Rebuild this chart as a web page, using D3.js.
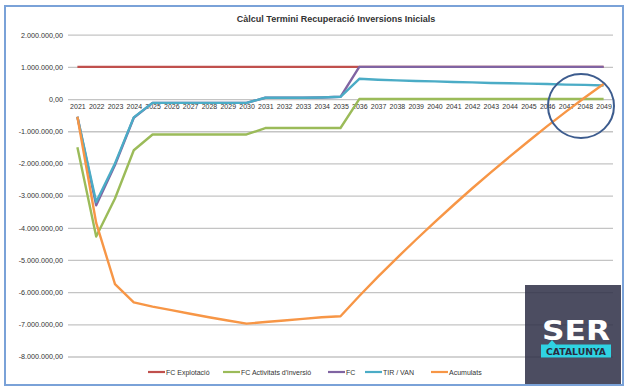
<!DOCTYPE html>
<html>
<head>
<meta charset="utf-8">
<script src="https://cdn.jsdelivr.net/npm/d3@7"></script>
<style>
  html, body { margin: 0; padding: 0; background: #fff; }
  svg { display: block; font-family: "Liberation Sans", Arial, sans-serif; }
</style>
</head>
<body>
<svg id="chart" width="630" height="392"></svg>
<script>
// ---------- DATA ----------
const years = ["2021","2022","2023","2024","2025","2026","2027","2028","2029","2030",
               "2031","2032","2033","2034","2035","2036","2037","2038","2039","2040",
               "2041","2042","2043","2044","2045","2046","2047","2048","2049"];

const fcExplotacio = [1000000,1000000,1000000,1000000,1000000,1000000,1000000,1000000,1000000,1000000,
                      1000000,1000000,1000000,1000000,1000000,1000000,1000000,1000000,1000000,1000000,
                      1000000,1000000,1000000,1000000,1000000,1000000,1000000,1000000,1000000];

const fcInversio = [-1500000,-4270000,-3090000,-1590000,-1100000,-1100000,-1100000,-1100000,-1100000,-1100000,
                    -900000,-900000,-900000,-900000,-900000,0,0,0,0,0,
                    0,0,0,0,0,0,0,0,0];

const fc = [-550000,-3300000,-2050000,-580000,-120000,-120000,-120000,-120000,-120000,-120000,
            40000,40000,40000,50000,70000,1000000,1000000,1000000,1000000,1000000,
            1000000,1000000,1000000,1000000,1000000,1000000,1000000,1000000,1000000];

const tirVan = [-550000,-3200000,-2000000,-570000,-120000,-120000,-120000,-120000,-120000,-120000,
                40000,40000,40000,50000,70000,630000,600000,580000,560000,550000,
                530000,520000,500000,490000,480000,470000,450000,440000,420000];

const acumulats = [-550000,-3850000,-5750000,-6320000,-6450000,-6560000,-6670000,-6780000,-6880000,-6980000,
                   -6930000,-6880000,-6830000,-6780000,-6750000,-6120000,-5520000,-4940000,-4380000,-3830000,
                   -3300000,-2780000,-2280000,-1790000,-1310000,-840000,-390000,50000,470000];

const yTicks = [2000000,1000000,0,-1000000,-2000000,-3000000,-4000000,-5000000,-6000000,-7000000,-8000000];

const seriesNames = ["FC Explotació","FC Activitats d'inversió","FC","TIR / VAN","Acumulats"];
const seriesColors = ["#c0504d","#9bbb59","#8064a2","#4bacc6","#f79646"];
const seriesValues = [fcExplotacio, fcInversio, fc, tirVan, acumulats];

const title = "Càlcul Termini Recuperació Inversions Inicials";

// ---------- LAYOUT ----------
const svg = d3.select("#chart");
const plotLeft = 68, plotRight = 613, plotTop = 34.7, plotBottom = 356.5;

const x = d3.scalePoint().domain(years).range([plotLeft, plotRight]).padding(0.5);
const y = d3.scaleLinear().domain([-8000000, 2000000]).range([plotBottom, plotTop]);

const locale = d3.formatLocale({decimal: ",", thousands: ".", grouping: [3], currency: ["", "€"], minus: "-"});
const fmt = locale.format(",.2f");

svg.append("rect").attr("width", 630).attr("height", 392).attr("fill", "#fff");

// frame
svg.append("rect")
  .attr("x", 5).attr("y", 6).attr("width", 618).attr("height", 379)
  .attr("fill", "none").attr("stroke", "#7aa2d8").attr("stroke-width", 2);

// title
svg.append("text")
  .attr("x", 336).attr("y", 22)
  .attr("text-anchor", "middle")
  .attr("font-size", 9).attr("font-weight", "bold").attr("fill", "#333")
  .text(title);

// y axis (gridlines + labels)
const yAxis = d3.axisLeft(y).tickValues(yTicks).tickFormat(fmt)
  .tickSize(-(plotRight - plotLeft)).tickPadding(5);
const gy = svg.append("g").attr("transform", `translate(${plotLeft},0)`).call(yAxis);
gy.select(".domain").remove();
gy.selectAll(".tick line").attr("stroke", "#c4c4c4").attr("stroke-width", 1.3);
gy.selectAll(".tick text").attr("font-size", 7.2).attr("fill", "#333").attr("font-family", "Liberation Sans, Arial, sans-serif");

// x axis labels along zero line
const xAxis = d3.axisBottom(x).tickSize(0).tickPadding(5);
const gx = svg.append("g").attr("transform", `translate(0,${y(0)})`).call(xAxis);
gx.select(".domain").remove();
gx.selectAll(".tick text").attr("font-size", 7).attr("fill", "#333")
  .attr("font-family", "Liberation Sans, Arial, sans-serif");

// lines
const line = d3.line().x((d, i) => x(years[i])).y(d => y(d));
seriesValues.forEach((vals, k) => {
  svg.append("path")
    .datum(vals)
    .attr("fill", "none")
    .attr("stroke", seriesColors[k])
    .attr("stroke-width", 2.4)
    .attr("stroke-linejoin", "round")
    .attr("d", line);
});

// legend
const legendItems = [
  {x: 148, w: 17}, {x: 223, w: 17}, {x: 328, w: 17}, {x: 365, w: 17}, {x: 431, w: 17}
];
const lg = svg.append("g");
seriesNames.forEach((name, k) => {
  const it = legendItems[k];
  lg.append("line")
    .attr("x1", it.x).attr("x2", it.x + it.w)
    .attr("y1", 372).attr("y2", 372)
    .attr("stroke", seriesColors[k]).attr("stroke-width", 2.2);
  lg.append("text")
    .attr("x", it.x + it.w + 1).attr("y", 374.5)
    .attr("font-size", 7).attr("fill", "#333")
    .text(name);
});

// highlight circle
svg.append("ellipse")
  .attr("cx", 581).attr("cy", 106).attr("rx", 33).attr("ry", 32)
  .attr("fill", "none").attr("stroke", "#3d5c8e").attr("stroke-width", 2);

// SER Catalunya logo
const logo = svg.append("g");
logo.append("rect")
  .attr("x", 525).attr("y", 285).attr("width", 96).attr("height", 99)
  .attr("fill", "#2e3047").attr("opacity", 0.86);
logo.append("text")
  .attr("x", 576).attr("y", 339.5)
  .attr("text-anchor", "middle")
  .attr("font-family", "DejaVu Sans, sans-serif")
  .attr("font-weight", "bold").attr("font-size", 26)
  .attr("textLength", 68).attr("lengthAdjust", "spacingAndGlyphs")
  .attr("fill", "#fff")
  .text("SER");
logo.append("path")
  .attr("d", "M541,344.5 L548,344.5 L552,340 L556,344.5 L611,344.5 L611,357.5 L541,357.5 Z")
  .attr("fill", "#2fd3e3");
logo.append("text")
  .attr("x", 576).attr("y", 354.5)
  .attr("text-anchor", "middle")
  .attr("font-family", "DejaVu Sans, sans-serif")
  .attr("font-weight", "bold").attr("font-size", 9)
  .attr("textLength", 60).attr("lengthAdjust", "spacingAndGlyphs")
  .attr("fill", "#2a2c40")
  .text("CATALUNYA");
</script>
</body>
</html>
